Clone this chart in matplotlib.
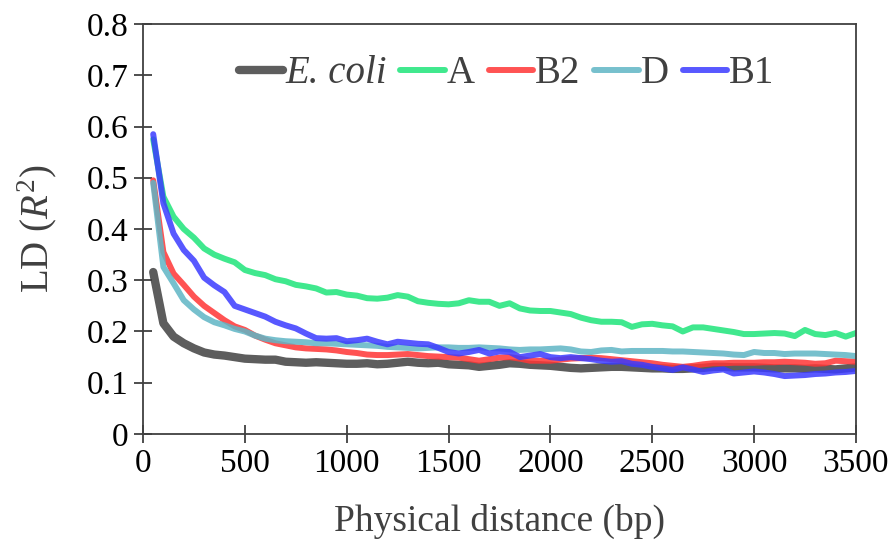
import numpy as np
import matplotlib
matplotlib.use('Agg')
import matplotlib.pyplot as plt

plt.rcParams['font.family'] = ['Liberation Serif', 'DejaVu Serif']
plt.rcParams['mathtext.fontset'] = 'custom'
plt.rcParams['mathtext.rm'] = 'Liberation Serif'
plt.rcParams['mathtext.it'] = 'Liberation Serif:italic'

# physical distance (bp)
dist = list(range(50, 3501, 50))

ecoli = [0.316, 0.216, 0.190, 0.177, 0.167, 0.159, 0.155, 0.153, 0.150, 0.147,
         0.146, 0.145, 0.145, 0.141, 0.140, 0.139, 0.140, 0.139, 0.138, 0.137,
         0.137, 0.138, 0.136, 0.137, 0.139, 0.141, 0.139, 0.138, 0.139, 0.136,
         0.135, 0.134, 0.131, 0.133, 0.135, 0.138, 0.137, 0.135, 0.134, 0.133,
         0.131, 0.129, 0.128, 0.129, 0.130, 0.131, 0.131, 0.130, 0.129, 0.128,
         0.128, 0.127, 0.127, 0.128, 0.129, 0.131, 0.131, 0.130, 0.130, 0.130,
         0.129, 0.128, 0.128, 0.128, 0.127, 0.128, 0.127, 0.126, 0.128, 0.130]

grp_a = [0.575, 0.463, 0.424, 0.400, 0.383, 0.362, 0.350, 0.342, 0.335, 0.320,
         0.314, 0.310, 0.302, 0.298, 0.291, 0.288, 0.284, 0.276, 0.277, 0.272,
         0.270, 0.265, 0.264, 0.266, 0.271, 0.268, 0.259, 0.256, 0.254, 0.253,
         0.255, 0.261, 0.258, 0.258, 0.250, 0.255, 0.245, 0.241, 0.240, 0.240,
         0.237, 0.234, 0.227, 0.222, 0.219, 0.219, 0.218, 0.209, 0.214, 0.215,
         0.212, 0.210, 0.200, 0.208, 0.208, 0.205, 0.202, 0.199, 0.195, 0.195,
         0.196, 0.197, 0.196, 0.191, 0.203, 0.195, 0.193, 0.197, 0.190, 0.197]

grp_b2 = [0.495, 0.355, 0.313, 0.291, 0.268, 0.250, 0.236, 0.222, 0.210, 0.203,
          0.192, 0.184, 0.177, 0.173, 0.169, 0.167, 0.166, 0.165, 0.163, 0.160,
          0.158, 0.155, 0.154, 0.154, 0.155, 0.156, 0.154, 0.152, 0.151, 0.150,
          0.149, 0.146, 0.143, 0.146, 0.149, 0.150, 0.147, 0.143, 0.143, 0.143,
          0.145, 0.147, 0.148, 0.149, 0.148, 0.146, 0.144, 0.142, 0.140, 0.138,
          0.135, 0.133, 0.131, 0.133, 0.136, 0.138, 0.138, 0.139, 0.139, 0.139,
          0.140, 0.140, 0.141, 0.140, 0.139, 0.137, 0.138, 0.143, 0.142, 0.141]

grp_d = [0.490, 0.326, 0.294, 0.261, 0.243, 0.228, 0.218, 0.212, 0.205, 0.200,
         0.192, 0.186, 0.183, 0.181, 0.180, 0.179, 0.177, 0.177, 0.176, 0.175,
         0.174, 0.173, 0.172, 0.170, 0.169, 0.168, 0.167, 0.168, 0.169, 0.169,
         0.168, 0.168, 0.169, 0.168, 0.167, 0.165, 0.164, 0.165, 0.165, 0.166,
         0.167, 0.165, 0.161, 0.160, 0.163, 0.164, 0.161, 0.162, 0.162, 0.162,
         0.162, 0.161, 0.161, 0.160, 0.159, 0.158, 0.157, 0.155, 0.154, 0.160,
         0.158, 0.158, 0.156, 0.157, 0.157, 0.157, 0.156, 0.155, 0.154, 0.152]

grp_b1 = [0.585, 0.450, 0.391, 0.359, 0.338, 0.305, 0.290, 0.277, 0.250, 0.243,
          0.236, 0.229, 0.219, 0.212, 0.206, 0.196, 0.187, 0.186, 0.187, 0.181,
          0.183, 0.186, 0.180, 0.175, 0.180, 0.178, 0.176, 0.175, 0.168, 0.160,
          0.157, 0.160, 0.164, 0.157, 0.161, 0.160, 0.150, 0.153, 0.156, 0.150,
          0.148, 0.150, 0.148, 0.146, 0.143, 0.141, 0.142, 0.137, 0.135, 0.131,
          0.128, 0.125, 0.130, 0.126, 0.121, 0.124, 0.126, 0.118, 0.120, 0.122,
          0.120, 0.117, 0.113, 0.114, 0.115, 0.117, 0.118, 0.120, 0.121, 0.123]

labels = ['E. coli', 'A', 'B2', 'D', 'B1']
colors = ['#404040', '#1ee57a', '#ff3535', '#5fb5c5', '#3b3bff']
widths = [6.0, 4.3, 4.3, 4.3, 4.3]
xticks = [0, 500, 1000, 1500, 2000, 2500, 3000, 3500]
yticks = [0, 0.1, 0.2, 0.3, 0.4, 0.5, 0.6, 0.7, 0.8]
yticklabels = ['0', '0.1', '0.2', '0.3', '0.4', '0.5', '0.6', '0.7', '0.8']

fig = plt.figure(figsize=(8.9, 5.42), dpi=100)
ax = fig.add_axes([0.1607, 0.1993, 0.801, 0.7564])

series = [ecoli, grp_a, grp_b2, grp_d, grp_b1]
for vals, lab, c, w in zip(series, labels, colors, widths):
    ax.plot(dist, vals, color=c, lw=w, alpha=0.85, label=lab,
            solid_capstyle='round', solid_joinstyle='round')

ax.set_xlim(0, 3500)
ax.set_ylim(0, 0.8)
ax.set_xticks(xticks)
ax.set_yticks(yticks)
ax.set_yticklabels(yticklabels)
ax.tick_params(direction='inout', length=13, width=1.3, color='#404040',
               labelsize=24, labelcolor='black', pad=4)
for s in ax.spines.values():
    s.set_color('#404040')
    s.set_linewidth(1.3)

ax.set_xlabel('Physical distance (bp)', fontsize=27, color='#404040', labelpad=18)
ax.set_ylabel('LD ($R^2$)', fontsize=28, color='#404040', labelpad=20)

leg = ax.legend(loc='upper center', ncol=5, frameon=False, fontsize=28,
                handlelength=1.15, handletextpad=0.05, columnspacing=0.35,
                bbox_to_anchor=(0.51, 1.0), borderaxespad=0.4)
for t in leg.get_texts():
    t.set_color('#404040')
leg.get_texts()[0].set_style('italic')
for h in leg.legend_handles:
    h.set_alpha(0.85)

fig.savefig('out.png', dpi=100)
